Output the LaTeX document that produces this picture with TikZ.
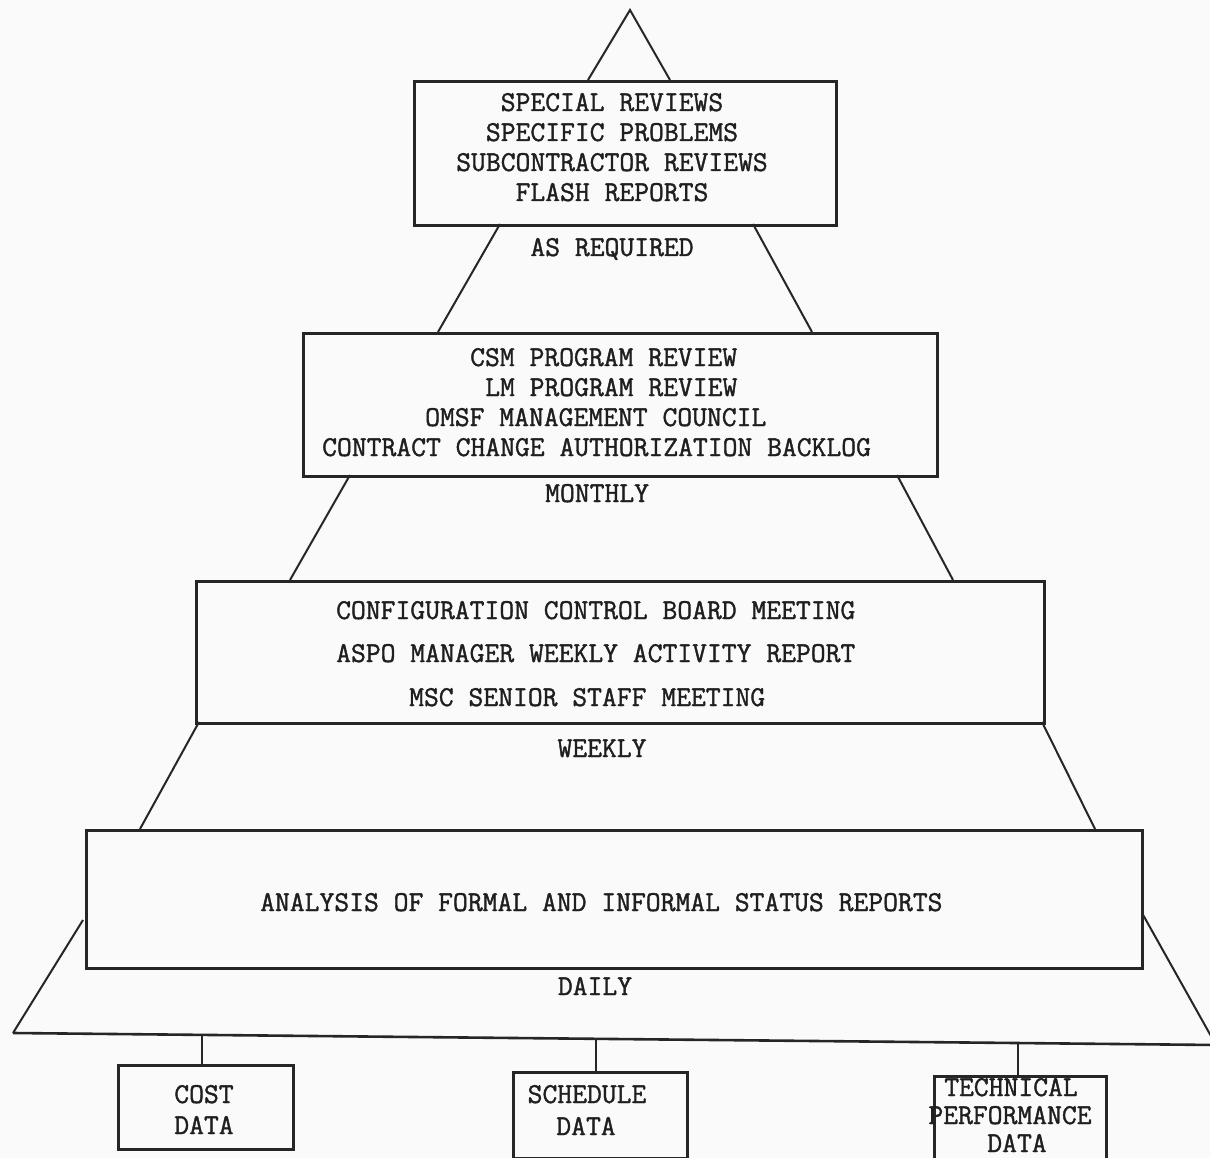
\documentclass[tikz,border=0pt]{standalone}
\usepackage{fontspec}
% typewriter face, slightly emboldened like a ribbon typewriter
\newfontfamily\typewr{lmmono12-regular.otf}[FakeBold=1.3]
\begin{document}
\begin{tikzpicture}[x=1pt,y=-1pt,
  frame/.style={draw=black!85, line width=2.6pt, inner sep=0pt, anchor=north west},
  side/.style={draw=black!85, line width=2pt},
  lbl/.style={inner sep=0pt, text depth=0pt, font=\fontsize{28.8}{34}\selectfont\typewr, text=black!88},
  ]
% page
\fill[white!98!black] (0,0) rectangle (1210,1158);
\useasboundingbox (0,0) rectangle (1210,1158);

% ---- level boxes
\node[frame, minimum width=422pt, minimum height=144pt] (lvlA) at (413,80) {};
\node[frame, minimum width=634pt, minimum height=143pt] (lvlB) at (302,332) {};
\node[frame, minimum width=848pt, minimum height=142pt] (lvlC) at (195,580) {};
\node[frame, minimum width=1056pt, minimum height=138pt] (lvlD) at (85,829) {};

% ---- sides of the pyramid
\coordinate (apex) at (630,10);
\coordinate (a1l) at (588,80);   \coordinate (a1r) at (670,80);
\coordinate (a2l) at (500,224);  \coordinate (a2r) at (753,224);
\coordinate (b1l) at (438,332);  \coordinate (b1r) at (812,332);
\coordinate (b2l) at (350,475);  \coordinate (b2r) at (897,475);
\coordinate (c1l) at (290,580);  \coordinate (c1r) at (953,580);
\coordinate (c2l) at (199,722);  \coordinate (c2r) at (1042,722);
\coordinate (d1l) at (140,829);  \coordinate (d1r) at (1095,829);
\coordinate (d2l) at (83,920);   \coordinate (d2r) at (1142,913);
\coordinate (baseL) at (13,1033); \coordinate (baseR) at (1216,1045);

\draw[side] (a1l) -- (apex) -- (a1r);
\draw[side] (a2l) -- (b1l);  \draw[side] (a2r) -- (b1r);
\draw[side] (b2l) -- (c1l);  \draw[side] (b2r) -- (c1r);
\draw[side] (c2l) -- (d1l);  \draw[side] (c2r) -- (d1r);
\draw[side] (d2l) -- (baseL); \draw[side] (d2r) -- (baseR);
\draw[side, line width=2.6pt] (baseL) -- (baseR);

% ---- level texts
\node[lbl, anchor=base] (tA1) at (612,111) {SPECIAL REVIEWS};
\node[lbl, anchor=base] (tA2) at (612,141) {SPECIFIC PROBLEMS};
\node[lbl, anchor=base] (tA3) at (612,171) {SUBCONTRACTOR REVIEWS};
\node[lbl, anchor=base] (tA4) at (612,201) {FLASH REPORTS};
\node[lbl, anchor=base] (fA) at (612,256) {AS REQUIRED};

\node[lbl, anchor=base west] (tB1) at (470,366) {CSM PROGRAM REVIEW};
\node[lbl, anchor=base west] (tB2) at (485,396) {LM PROGRAM REVIEW};
\node[lbl, anchor=base west] (tB3) at (425,426) {OMSF MANAGEMENT COUNCIL};
\node[lbl, anchor=base west] (tB4) at (322,456) {CONTRACT CHANGE AUTHORIZATION BACKLOG};
\node[lbl, anchor=base west] (fB) at (545,502) {MONTHLY};

\node[lbl, anchor=base west] (tC1) at (336,619) {CONFIGURATION CONTROL BOARD MEETING};
\node[lbl, anchor=base west] (tC2) at (336,662) {ASPO MANAGER WEEKLY ACTIVITY REPORT};
\node[lbl, anchor=base west] (tC3) at (409,706) {MSC SENIOR STAFF MEETING};
\node[lbl, anchor=base] (fC) at (602,757) {WEEKLY};

\node[lbl, anchor=base west] (tD1) at (260,911) {ANALYSIS OF FORMAL AND INFORMAL STATUS REPORTS};
\node[lbl, anchor=base] (fD) at (595,995) {DAILY};

% ---- data sources
\node[frame, minimum width=175pt, minimum height=84pt] (cost) at (117,1064) {};
\node[frame, minimum width=174pt, minimum height=86pt] (sched) at (512,1071) {};
\node[frame, minimum width=172pt, minimum height=84pt] (tech) at (933,1075) {};

\draw[side] (cost.north -| 202,0) -- ++(0,-29);
\draw[side] (sched.north -| 596,0) -- ++(0,-32);
\draw[side] (tech.north -| 1018,0) -- ++(0,-31);

\node[lbl, anchor=base] (c1) at (204,1103) {COST};
\node[lbl, anchor=base] (c2) at (204,1134) {DATA};
\node[lbl, anchor=base] (s1) at (587,1103) {SCHEDULE};
\node[lbl, anchor=base] (s2) at (586,1135) {DATA};
\node[lbl, anchor=base] (p1) at (1011,1096) {TECHNICAL};
\node[lbl, anchor=base] (p2) at (1010,1124) {PERFORMANCE};
\node[lbl, anchor=base] (p3) at (1017,1152) {DATA};
\end{tikzpicture}
\end{document}
